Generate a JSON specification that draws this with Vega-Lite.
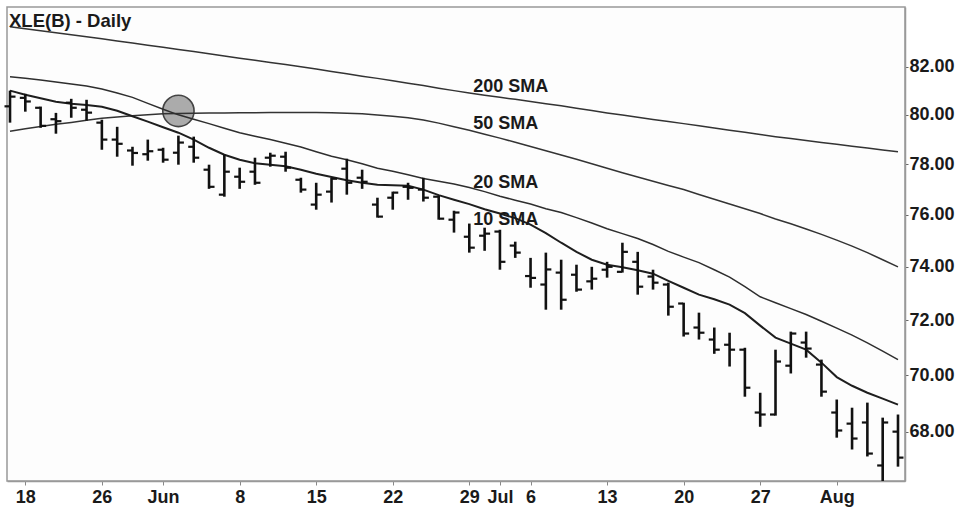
{
  "$schema": "https://vega.github.io/schema/vega-lite/v6.json",
  "width": 898,
  "height": 474,
  "autosize": "none",
  "padding": {"left": 7, "top": 7, "right": 62, "bottom": 28},
  "background": "white",
  "title": {"text": "XLE(B) - Daily", "anchor": "start", "frame": "group", "offset": -18, "dy": 20, "baseline": "alphabetic", "dx": 2, "font": "Liberation Sans", "fontSize": 18.5, "fontWeight": "bold", "color": "#1a1a1a"},
  "config": {"view": {"stroke": "#999999", "strokeWidth": 1.5, "fill": "#fdfdfd"}},
  "datasets": {
    "prices": [
      {"date": "2015-05-15", "open": 80.35, "high": 81.00, "low": 79.68, "close": 80.75, "sma10": 81.00, "sma20": 81.58, "sma50": 79.33, "sma200": 83.70},
      {"date": "2015-05-18", "open": 80.70, "high": 80.87, "low": 80.13, "close": 80.55, "sma10": 80.83, "sma20": 81.52, "sma50": 79.43, "sma200": 83.61},
      {"date": "2015-05-19", "open": 80.29, "high": 80.34, "low": 79.47, "close": 79.55, "sma10": 80.68, "sma20": 81.44, "sma50": 79.52, "sma200": 83.53},
      {"date": "2015-05-20", "open": 79.82, "high": 80.08, "low": 79.23, "close": 79.74, "sma10": 80.54, "sma20": 81.36, "sma50": 79.61, "sma200": 83.44},
      {"date": "2015-05-21", "open": 80.50, "high": 80.66, "low": 79.88, "close": 80.29, "sma10": 80.46, "sma20": 81.28, "sma50": 79.69, "sma200": 83.36},
      {"date": "2015-05-22", "open": 80.21, "high": 80.62, "low": 79.76, "close": 80.09, "sma10": 80.40, "sma20": 81.19, "sma50": 79.78, "sma200": 83.27},
      {"date": "2015-05-26", "open": 79.68, "high": 79.80, "low": 78.58, "close": 78.99, "sma10": 80.33, "sma20": 81.07, "sma50": 79.86, "sma200": 83.18},
      {"date": "2015-05-27", "open": 78.99, "high": 79.51, "low": 78.30, "close": 78.82, "sma10": 80.17, "sma20": 80.90, "sma50": 79.91, "sma200": 83.09},
      {"date": "2015-05-28", "open": 78.55, "high": 78.70, "low": 77.94, "close": 78.45, "sma10": 79.94, "sma20": 80.72, "sma50": 79.96, "sma200": 83.00},
      {"date": "2015-05-29", "open": 78.40, "high": 78.99, "low": 78.14, "close": 78.52, "sma10": 79.72, "sma20": 80.47, "sma50": 80.00, "sma200": 82.91},
      {"date": "2015-06-01", "open": 78.58, "high": 78.66, "low": 78.06, "close": 78.18, "sma10": 79.49, "sma20": 80.23, "sma50": 80.04, "sma200": 82.82},
      {"date": "2015-06-02", "open": 78.46, "high": 79.15, "low": 77.98, "close": 78.87, "sma10": 79.27, "sma20": 80.00, "sma50": 80.05, "sma200": 82.73},
      {"date": "2015-06-03", "open": 78.70, "high": 79.11, "low": 78.06, "close": 78.26, "sma10": 78.99, "sma20": 79.82, "sma50": 80.06, "sma200": 82.64},
      {"date": "2015-06-04", "open": 77.78, "high": 77.98, "low": 77.02, "close": 77.10, "sma10": 78.66, "sma20": 79.64, "sma50": 80.08, "sma200": 82.55},
      {"date": "2015-06-05", "open": 76.79, "high": 78.38, "low": 76.71, "close": 77.70, "sma10": 78.38, "sma20": 79.45, "sma50": 80.08, "sma200": 82.45},
      {"date": "2015-06-08", "open": 77.50, "high": 77.86, "low": 77.02, "close": 77.30, "sma10": 78.18, "sma20": 79.27, "sma50": 80.09, "sma200": 82.36},
      {"date": "2015-06-09", "open": 77.70, "high": 78.26, "low": 77.18, "close": 77.26, "sma10": 78.04, "sma20": 79.13, "sma50": 80.09, "sma200": 82.27},
      {"date": "2015-06-10", "open": 78.26, "high": 78.46, "low": 77.90, "close": 78.34, "sma10": 77.98, "sma20": 78.99, "sma50": 80.10, "sma200": 82.18},
      {"date": "2015-06-11", "open": 78.30, "high": 78.50, "low": 77.70, "close": 77.86, "sma10": 77.92, "sma20": 78.84, "sma50": 80.10, "sma200": 82.09},
      {"date": "2015-06-12", "open": 77.38, "high": 77.46, "low": 76.87, "close": 76.99, "sma10": 77.78, "sma20": 78.69, "sma50": 80.10, "sma200": 82.00},
      {"date": "2015-06-15", "open": 76.40, "high": 77.26, "low": 76.20, "close": 76.79, "sma10": 77.62, "sma20": 78.50, "sma50": 80.10, "sma200": 81.90},
      {"date": "2015-06-16", "open": 76.91, "high": 77.46, "low": 76.48, "close": 77.42, "sma10": 77.49, "sma20": 78.32, "sma50": 80.09, "sma200": 81.80},
      {"date": "2015-06-17", "open": 77.82, "high": 78.22, "low": 76.79, "close": 77.26, "sma10": 77.36, "sma20": 78.18, "sma50": 80.07, "sma200": 81.70},
      {"date": "2015-06-18", "open": 77.46, "high": 77.78, "low": 77.02, "close": 77.30, "sma10": 77.26, "sma20": 78.02, "sma50": 80.04, "sma200": 81.60},
      {"date": "2015-06-19", "open": 76.40, "high": 76.67, "low": 75.89, "close": 75.93, "sma10": 77.18, "sma20": 77.84, "sma50": 79.99, "sma200": 81.51},
      {"date": "2015-06-22", "open": 76.67, "high": 76.91, "low": 76.20, "close": 76.87, "sma10": 77.16, "sma20": 77.72, "sma50": 79.94, "sma200": 81.41},
      {"date": "2015-06-23", "open": 77.10, "high": 77.26, "low": 76.59, "close": 77.06, "sma10": 77.14, "sma20": 77.58, "sma50": 79.88, "sma200": 81.31},
      {"date": "2015-06-24", "open": 76.99, "high": 77.46, "low": 76.52, "close": 76.67, "sma10": 76.99, "sma20": 77.43, "sma50": 79.79, "sma200": 81.21},
      {"date": "2015-06-25", "open": 76.71, "high": 76.75, "low": 75.81, "close": 75.85, "sma10": 76.77, "sma20": 77.32, "sma50": 79.66, "sma200": 81.10},
      {"date": "2015-06-26", "open": 75.81, "high": 76.16, "low": 75.31, "close": 76.09, "sma10": 76.59, "sma20": 77.21, "sma50": 79.51, "sma200": 81.00},
      {"date": "2015-06-29", "open": 75.15, "high": 75.66, "low": 74.54, "close": 74.73, "sma10": 76.42, "sma20": 77.07, "sma50": 79.37, "sma200": 80.90},
      {"date": "2015-06-30", "open": 75.19, "high": 75.50, "low": 74.61, "close": 75.27, "sma10": 76.22, "sma20": 76.91, "sma50": 79.21, "sma200": 80.81},
      {"date": "2015-07-01", "open": 75.35, "high": 75.42, "low": 73.89, "close": 74.19, "sma10": 76.05, "sma20": 76.73, "sma50": 79.05, "sma200": 80.72},
      {"date": "2015-07-02", "open": 74.81, "high": 74.96, "low": 74.34, "close": 74.54, "sma10": 75.87, "sma20": 76.57, "sma50": 78.88, "sma200": 80.64},
      {"date": "2015-07-06", "open": 73.65, "high": 74.34, "low": 73.21, "close": 73.58, "sma10": 75.62, "sma20": 76.42, "sma50": 78.71, "sma200": 80.55},
      {"date": "2015-07-07", "open": 73.33, "high": 74.54, "low": 72.39, "close": 73.90, "sma10": 75.29, "sma20": 76.24, "sma50": 78.54, "sma200": 80.46},
      {"date": "2015-07-08", "open": 73.78, "high": 74.27, "low": 72.39, "close": 72.76, "sma10": 74.92, "sma20": 76.09, "sma50": 78.37, "sma200": 80.37},
      {"date": "2015-07-09", "open": 73.70, "high": 74.08, "low": 73.06, "close": 73.14, "sma10": 74.57, "sma20": 75.89, "sma50": 78.20, "sma200": 80.27},
      {"date": "2015-07-10", "open": 73.45, "high": 74.00, "low": 73.14, "close": 73.55, "sma10": 74.27, "sma20": 75.68, "sma50": 78.02, "sma200": 80.18},
      {"date": "2015-07-13", "open": 73.89, "high": 74.19, "low": 73.59, "close": 74.00, "sma10": 74.08, "sma20": 75.46, "sma50": 77.84, "sma200": 80.08},
      {"date": "2015-07-14", "open": 73.81, "high": 74.92, "low": 73.78, "close": 74.57, "sma10": 73.98, "sma20": 75.27, "sma50": 77.66, "sma200": 79.99},
      {"date": "2015-07-15", "open": 74.19, "high": 74.57, "low": 72.95, "close": 73.25, "sma10": 73.87, "sma20": 75.08, "sma50": 77.49, "sma200": 79.90},
      {"date": "2015-07-16", "open": 73.63, "high": 73.89, "low": 73.14, "close": 73.40, "sma10": 73.74, "sma20": 74.85, "sma50": 77.32, "sma200": 79.81},
      {"date": "2015-07-17", "open": 73.33, "high": 73.40, "low": 72.17, "close": 72.50, "sma10": 73.47, "sma20": 74.59, "sma50": 77.15, "sma200": 79.73},
      {"date": "2015-07-20", "open": 72.62, "high": 72.65, "low": 71.40, "close": 71.51, "sma10": 73.21, "sma20": 74.37, "sma50": 76.99, "sma200": 79.64},
      {"date": "2015-07-21", "open": 71.73, "high": 72.28, "low": 71.29, "close": 71.54, "sma10": 72.95, "sma20": 74.16, "sma50": 76.80, "sma200": 79.55},
      {"date": "2015-07-22", "open": 71.29, "high": 71.73, "low": 70.77, "close": 70.92, "sma10": 72.78, "sma20": 73.89, "sma50": 76.61, "sma200": 79.46},
      {"date": "2015-07-23", "open": 71.10, "high": 71.54, "low": 70.31, "close": 70.92, "sma10": 72.58, "sma20": 73.61, "sma50": 76.42, "sma200": 79.37},
      {"date": "2015-07-24", "open": 70.92, "high": 70.99, "low": 69.23, "close": 69.55, "sma10": 72.26, "sma20": 73.25, "sma50": 76.24, "sma200": 79.29},
      {"date": "2015-07-27", "open": 68.67, "high": 69.37, "low": 68.17, "close": 68.60, "sma10": 71.80, "sma20": 72.87, "sma50": 76.05, "sma200": 79.20},
      {"date": "2015-07-28", "open": 68.60, "high": 70.92, "low": 68.56, "close": 70.49, "sma10": 71.36, "sma20": 72.65, "sma50": 75.84, "sma200": 79.11},
      {"date": "2015-07-29", "open": 70.34, "high": 71.58, "low": 70.06, "close": 71.51, "sma10": 71.14, "sma20": 72.43, "sma50": 75.65, "sma200": 79.03},
      {"date": "2015-07-30", "open": 71.18, "high": 71.58, "low": 70.63, "close": 70.96, "sma10": 70.92, "sma20": 72.21, "sma50": 75.45, "sma200": 78.95},
      {"date": "2015-07-31", "open": 70.38, "high": 70.56, "low": 69.23, "close": 69.41, "sma10": 70.45, "sma20": 71.96, "sma50": 75.24, "sma200": 78.87},
      {"date": "2015-08-03", "open": 68.67, "high": 69.13, "low": 67.79, "close": 68.04, "sma10": 69.93, "sma20": 71.71, "sma50": 75.02, "sma200": 78.80},
      {"date": "2015-08-04", "open": 68.28, "high": 68.84, "low": 67.38, "close": 67.76, "sma10": 69.62, "sma20": 71.45, "sma50": 74.79, "sma200": 78.72},
      {"date": "2015-08-05", "open": 68.32, "high": 69.02, "low": 67.14, "close": 67.24, "sma10": 69.37, "sma20": 71.17, "sma50": 74.54, "sma200": 78.65},
      {"date": "2015-08-06", "open": 66.83, "high": 68.49, "low": 66.20, "close": 68.32, "sma10": 69.16, "sma20": 70.87, "sma50": 74.27, "sma200": 78.57},
      {"date": "2015-08-07", "open": 68.00, "high": 68.60, "low": 66.79, "close": 67.10, "sma10": 68.95, "sma20": 70.56, "sma50": 74.00, "sma200": 78.50}
    ],
    "circle": [{"date": "2015-06-02", "value": 80.16}],
    "labels": [
      {"date": "2015-06-29", "value": 81.16, "label": "200 SMA"},
      {"date": "2015-06-29", "value": 79.64, "label": "50 SMA"},
      {"date": "2015-06-29", "value": 77.26, "label": "20 SMA"},
      {"date": "2015-06-29", "value": 75.81, "label": "10 SMA"}
    ]
  },
  "data": {"name": "prices"},
  "encoding": {
    "x": {
      "field": "date", "type": "ordinal", "title": null,
      "scale": {"type": "point", "padding": 0.327, "align": 0.3},
      "axis": {
        "values": ["2015-05-18", "2015-05-26", "2015-06-01", "2015-06-08", "2015-06-15", "2015-06-22", "2015-06-29", "2015-07-01", "2015-07-06", "2015-07-13", "2015-07-20", "2015-07-27", "2015-08-03"],
        "labelExpr": "datum.value == '2015-06-01' ? 'Jun' : datum.value == '2015-07-01' ? 'Jul' : datum.value == '2015-08-03' ? 'Aug' : toNumber(substring(datum.value, 8, 10)) + ''",
        "labelAngle": 0, "labelOverlap": false, "tickSize": 4, "labelPadding": 3,
        "domainColor": "#999999", "domainWidth": 1.5, "tickColor": "#888888",
        "labelFont": "Liberation Sans", "labelFontSize": 18, "labelFontWeight": "bold", "labelColor": "#1a1a1a",
        "grid": false
      }
    }
  },
  "layer": [
    {
      "data": {"name": "circle"},
      "mark": {"type": "point", "shape": "circle", "filled": true, "size": 980, "fill": "#ababab", "stroke": "#444444", "strokeWidth": 1.6, "opacity": 1},
      "encoding": {
        "y": {
          "field": "value", "type": "quantitative", "title": null,
          "scale": {"type": "log", "domain": [66.3, 84.55], "nice": false, "zero": false},
          "axis": {
            "orient": "right", "values": [68, 70, 72, 74, 76, 78, 80, 82], "format": ".2f",
            "tickSize": 3, "labelPadding": 1, "domainColor": "#999999", "domainWidth": 1.5, "tickColor": "#666666",
            "labelFont": "Liberation Sans", "labelFontSize": 18, "labelFontWeight": "bold", "labelColor": "#1a1a1a",
            "grid": false, "title": null
          }
        }
      }
    },
    {"mark": {"type": "line", "color": "#333333", "strokeWidth": 1.5}, "encoding": {"y": {"field": "sma200", "type": "quantitative", "title": null}}},
    {"mark": {"type": "line", "color": "#333333", "strokeWidth": 1.5}, "encoding": {"y": {"field": "sma50", "type": "quantitative", "title": null}}},
    {"mark": {"type": "line", "color": "#2e2e2e", "strokeWidth": 1.5}, "encoding": {"y": {"field": "sma20", "type": "quantitative", "title": null}}},
    {"mark": {"type": "line", "color": "#1e1e1e", "strokeWidth": 2}, "encoding": {"y": {"field": "sma10", "type": "quantitative", "title": null}}},
    {"mark": {"type": "rule", "color": "#111111", "strokeWidth": 2.6, "clip": true}, "encoding": {"y": {"field": "high", "type": "quantitative", "title": null}, "y2": {"field": "low"}}},
    {"mark": {"type": "tick", "color": "#111111", "size": 5, "thickness": 2.2, "xOffset": -3, "opacity": 1}, "encoding": {"y": {"field": "open", "type": "quantitative", "title": null}}},
    {"mark": {"type": "tick", "color": "#111111", "size": 5, "thickness": 2.2, "xOffset": 3, "opacity": 1}, "encoding": {"y": {"field": "close", "type": "quantitative", "title": null}}},
    {
      "data": {"name": "labels"},
      "mark": {"type": "text", "align": "left", "baseline": "middle", "dx": 4, "font": "Liberation Sans", "fontSize": 18, "fontWeight": "bold", "color": "#1a1a1a"},
      "encoding": {"y": {"field": "value", "type": "quantitative", "title": null}, "text": {"field": "label"}}
    }
  ]
}
